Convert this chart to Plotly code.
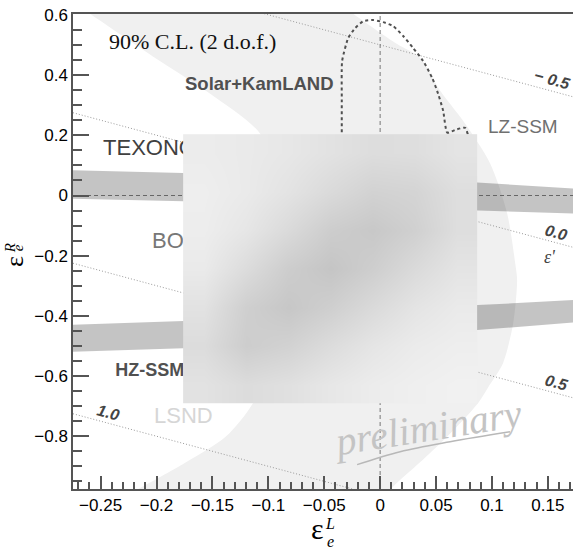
import numpy as np
import plotly.graph_objects as go

# ---------------- data ----------------
x_range = [-0.2747, 0.1725]
y_range = [-0.975, 0.603]

# light allowed crescent: outer (right) boundary, top -> bottom
cres_outer_x = [-0.0345, -0.0224, 0.0152, 0.0358, 0.0537, 0.0742, 0.0984, 0.1136,
                0.1208, 0.1225, 0.1190, 0.1100, 0.0980, 0.0877, 0.0600, 0.0385,
                0.0152, 0.0090, 0.0030]
cres_outer_y = [0.630, 0.599, 0.503, 0.457, 0.348, 0.248, 0.106, -0.060,
                -0.225, -0.281, -0.424, -0.556, -0.629, -0.689, -0.801, -0.877,
                -0.954, -0.977, -1.000]
# inner (left) boundary, bottom -> top
cres_inner_x = [-0.2300, -0.2160, -0.1740, -0.1380, -0.1136, -0.0950, -0.0850,
                -0.0860, -0.0930, -0.1073, -0.1520, -0.1970, -0.2576, -0.2700]
cres_inner_y = [-1.000, -0.974, -0.887, -0.801, -0.689, -0.520, -0.330,
                -0.150, 0.050, 0.205, 0.338, 0.447, 0.599, 0.630]

# dark bands
band_x = [-0.280, -0.176, 0.087, 0.180]
band1_top = [0.084, 0.075, 0.043, 0.022]
band1_bot = [-0.010, -0.019, -0.050, -0.061]
band2_top = [-0.430, -0.417, -0.364, -0.346]
band2_bot = [-0.520, -0.507, -0.447, -0.420]

# dotted iso-lines (value of epsilon')
iso_labels = ["\u2212 0.5", "0.0", "0.5", "1.0"]
iso_y_left = [0.775, 0.275, -0.225, -0.725]
iso_y_right = [0.328, -0.172, -0.672, -1.172]

# dashed Solar+KamLAND contour (visible part)
kl_x = [-0.0343, -0.0343, -0.0340, -0.0286, -0.0224, -0.0152, -0.0063, 0.0027,
        0.0116, 0.0206, 0.0295, 0.0385, 0.0465, 0.0519, 0.0564, 0.0600, 0.0680,
        0.0760, 0.0820]
kl_y = [0.150, 0.315, 0.447, 0.523, 0.556, 0.579, 0.583, 0.576,
        0.563, 0.530, 0.490, 0.447, 0.391, 0.338, 0.281, 0.209, 0.219,
        0.225, 0.150]

# preliminary underline stroke
pre_x = [-0.0206, 0.0179, 0.0626, 0.1163]
pre_y = [-0.894, -0.851, -0.818, -0.785]

# grey box with blurred shading (grey levels, rows top -> bottom)
box_x = [-0.1762, 0.0868]
box_y = [-0.689, 0.2036]
box_gray = [
    [236, 234, 231, 226, 221, 222, 228],
    [238, 234, 227, 218, 210, 212, 222],
    [237, 230, 218, 205, 200, 208, 222],
    [234, 220, 205, 197, 206, 218, 228],
    [226, 207, 199, 207, 218, 228, 234],
    [220, 205, 210, 220, 229, 235, 238],
    [226, 220, 224, 231, 236, 239, 241],
]

SANS = "Liberation Sans, Arial, sans-serif"
SERIF = "Liberation Serif, Times New Roman, serif"

fig = go.Figure()

# crescent
fig.add_trace(go.Scatter(
    x=cres_outer_x + cres_inner_x, y=cres_outer_y + cres_inner_y,
    fill="toself", fillcolor="rgb(240,240,240)", mode="lines",
    line=dict(width=0, shape="spline", smoothing=0.8), hoverinfo="skip", showlegend=False))

# bands
for top, bot in [(band1_top, band1_bot), (band2_top, band2_bot)]:
    fig.add_trace(go.Scatter(
        x=band_x + band_x[::-1], y=top + bot[::-1], fill="toself",
        fillcolor="rgba(0,0,0,0.23)", mode="lines", line=dict(width=0),
        hoverinfo="skip", showlegend=False))

# dotted iso-lines
for yl, yr in zip(iso_y_left, iso_y_right):
    fig.add_trace(go.Scatter(
        x=x_range, y=[yl, yr], mode="lines",
        line=dict(color="#9a9a9a", width=1, dash="1px,2px"),
        hoverinfo="skip", showlegend=False))

# dashed zero lines
fig.add_trace(go.Scatter(x=[0, 0], y=y_range, mode="lines",
                         line=dict(color="#777", width=1, dash="4px,3px"),
                         hoverinfo="skip", showlegend=False))
fig.add_trace(go.Scatter(x=x_range, y=[0, 0], mode="lines",
                         line=dict(color="#666", width=1, dash="4px,3px"),
                         hoverinfo="skip", showlegend=False))

# dashed contour
fig.add_trace(go.Scatter(x=kl_x, y=kl_y, mode="lines",
                         line=dict(color="#505050", width=2, dash="3px,3px",
                                   shape="spline", smoothing=0.5),
                         hoverinfo="skip", showlegend=False))

# preliminary stroke
fig.add_trace(go.Scatter(x=pre_x, y=pre_y, mode="lines",
                         line=dict(color="#b8b8b8", width=1.5, shape="spline"),
                         hoverinfo="skip", showlegend=False))

# labels partly hidden by the box
fig.add_trace(go.Scatter(x=[-0.2478], y=[0.152], mode="text", text=["TEXONO"],
                         textposition="middle right",
                         textfont=dict(family=SANS, size=22, color="#404040"),
                         hoverinfo="skip", showlegend=False))
fig.add_trace(go.Scatter(x=[-0.204], y=[-0.156], mode="text", text=["BOREXINO"],
                         textposition="middle right",
                         textfont=dict(family=SANS, size=22, color="#777777"),
                         hoverinfo="skip", showlegend=False))
fig.add_trace(go.Scatter(x=[-0.237], y=[-0.583], mode="text", text=["<b>HZ-SSM</b>"],
                         textposition="middle right",
                         textfont=dict(family=SANS, size=18, color="#505050"),
                         hoverinfo="skip", showlegend=False))

# grey box on an overlaid subplot (drawn on top)
nx = len(box_gray[0])
ny = len(box_gray)
wx = (box_x[1] - box_x[0]) / nx
wy = (box_y[1] - box_y[0]) / ny
hx = np.linspace(box_x[0] + wx / 2, box_x[1] - wx / 2, nx)
hy = np.linspace(box_y[0] + wy / 2, box_y[1] - wy / 2, ny)
fig.add_trace(go.Heatmap(
    x=hx, y=hy, z=box_gray[::-1], zmin=0, zmax=255,
    colorscale=[[0, "rgb(0,0,0)"], [1, "rgb(255,255,255)"]],
    zsmooth="best", showscale=False, hoverinfo="skip",
    xaxis="x2", yaxis="y2"))

ann = []
def add_text(x, y, text, size, color, family=SANS, xanchor="left", angle=0,
             xref="x", yref="y"):
    ann.append(dict(x=x, y=y, xref=xref, yref=yref, text=text, showarrow=False,
                    xanchor=xanchor, yanchor="middle", textangle=angle,
                    borderpad=0,
                    font=dict(family=family, size=size, color=color)))

add_text(-0.2433, 0.513, "90% C.L. (2 d.o.f.)", 22, "#111111", family=SERIF)
add_text(-0.1754, 0.371, "<b>Solar+KamLAND</b>", 18.5, "#505050")
add_text(0.0957, 0.228, "LZ-SSM", 19, "#707070")
add_text(-0.203, -0.732, "LSND", 22, "#d6d6d6")

iso_pos = [(0.1538, 0.387), (0.1574, -0.1225), (0.1574, -0.6225), (-0.2433, -0.722)]
for lab, (lx, ly) in zip(iso_labels, iso_pos):
    add_text(lx, ly, "<b><i>" + lab + "</i></b>", 16, "#444444", xanchor="center", angle=15)
add_text(0.152, -0.205, "<i>\u03b5'</i>", 18, "#444444", family=SERIF, xanchor="center")

add_text(0.042, -0.770, "<i>preliminary</i>", 40, "#c4c4c4", family=SERIF,
         xanchor="center", angle=-9)

# axis titles (paper coords)
add_text(0.488, -0.084, "\u03b5", 30, "#000", family=SERIF, xanchor="center",
         xref="paper", yref="paper")
add_text(0.514, -0.072, "<i>L</i>", 16, "#000", family=SERIF, xanchor="center",
         xref="paper", yref="paper")
add_text(0.514, -0.110, "<i>e</i>", 16, "#000", family=SERIF, xanchor="center",
         xref="paper", yref="paper")
add_text(-0.116, 0.478, "\u03b5", 26, "#000", family=SERIF, xanchor="center",
         angle=-90, xref="paper", yref="paper")
add_text(-0.126, 0.507, "<i>R</i>", 15, "#000", family=SERIF, xanchor="center",
         angle=-90, xref="paper", yref="paper")
add_text(-0.110, 0.507, "<i>e</i>", 15, "#000", family=SERIF, xanchor="center",
         angle=-90, xref="paper", yref="paper")

axis_common = dict(showgrid=False, zeroline=False, showline=True,
                   linecolor="#555555", linewidth=1.5, ticks="inside",
                   tickcolor="#555555", tickwidth=1.5,
                   tickfont=dict(family=SANS, size=17, color="#000"))

fig.update_layout(
    width=573, height=549,
    margin=dict(l=73, r=0, t=14, b=60),
    paper_bgcolor="white", plot_bgcolor="white",
    showlegend=False,
    xaxis=dict(range=x_range, tickmode="linear", tick0=0, dtick=0.05, ticklen=13,
               mirror=True,
               minor=dict(dtick=0.01, tick0=0, ticks="inside", ticklen=7,
                          tickcolor="#555555", tickwidth=1.5),
               **axis_common),
    yaxis=dict(range=y_range, tickmode="linear", tick0=0, dtick=0.2, ticklen=16,
               minor=dict(dtick=0.05, tick0=0, ticks="inside", ticklen=9,
                          tickcolor="#555555", tickwidth=1.5),
               **axis_common),
    xaxis2=dict(range=x_range, overlaying="x", visible=False),
    yaxis2=dict(range=y_range, overlaying="y", visible=False),
    annotations=ann,
)

fig.write_html("out.html")
